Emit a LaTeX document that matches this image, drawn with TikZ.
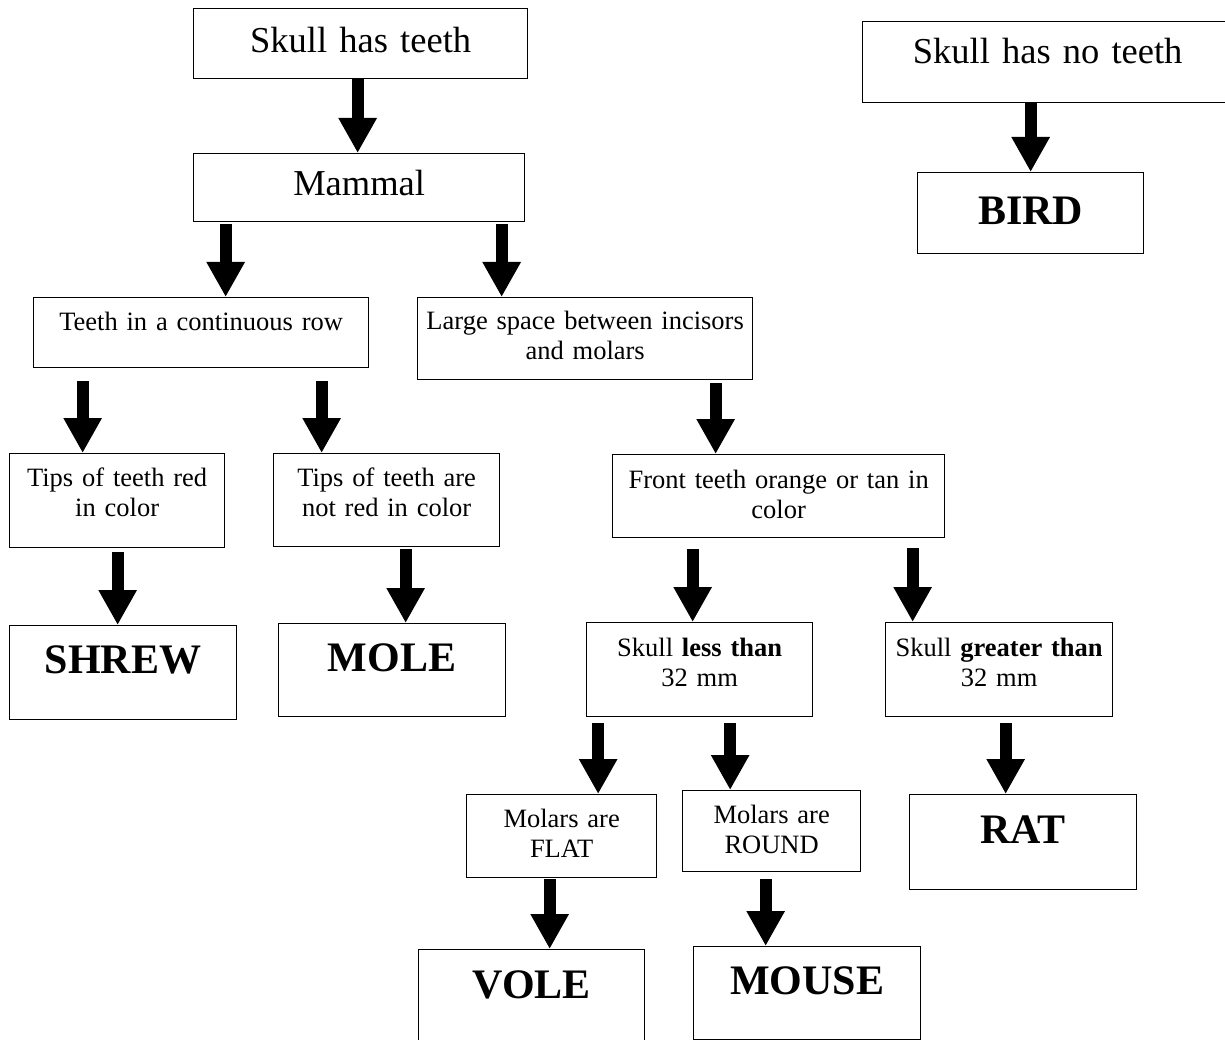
\documentclass[tikz,border=0pt]{standalone}
\usepackage{fontspec}
\setmainfont{Liberation Serif}
\usetikzlibrary{arrows.meta,calc}

\newcommand{\headtxt}{\fontsize{36.5}{42}\selectfont}
\newcommand{\cluetxt}{\fontsize{26.5}{30}\selectfont}
\newcommand{\nametxt}{\fontsize{42}{48}\selectfont\bfseries}

\begin{document}
\begin{tikzpicture}[x=1pt, y=-1pt,
  box/.style={draw, line width=1.3pt, inner sep=0pt, align=center,
              anchor=north west},
  head/.style={box, font=\headtxt},
  clue/.style={box, font=\cluetxt},
  animal/.style={box, font=\nametxt},
  blk/.style={line width=12pt, -{Triangle[length=35pt, width=36pt]}}
]
\useasboundingbox (0,0) rectangle (1225,1040);
\clip (0,0) rectangle (1225,1040);

% ---- Top of the key ----------------------------------------------------
\node[head, text width=334pt, text height=44pt, text depth=26pt]
  (teeth) at (193,8) {Skull has teeth};
\node[head, text width=331pt, text height=42pt, text depth=26pt]
  (mammal) at (193,153) {Mammal};
\node[head, text width=370pt, text height=42pt, text depth=39pt]
  (noTeeth) at (862,21) {Skull has no teeth};
\node[animal, text width=226pt, text height=52pt, text depth=29pt]
  (bird) at (917,172) {BIRD};

% ---- Teeth in a row ----------------------------------------------------
\node[clue, text width=335pt, text height=33pt, text depth=37pt]
  (teethRow) at (33,297) {Teeth in a continuous row};
\node[clue, text width=215pt, text height=33pt, text depth=61pt]
  (tipsRed) at (9,453) {Tips of teeth red\\in color};
\node[clue, text width=226pt, text height=33pt, text depth=60pt]
  (tipsNotRed) at (273,453) {Tips of teeth are\\not red in color};
\node[animal, text width=227pt, text height=48pt, text depth=46pt]
  (shrew) at (9,625) {SHREW};
\node[animal, text width=227pt, text height=48pt, text depth=45pt]
  (mole) at (278,623) {MOLE};

% ---- Large space -------------------------------------------------------
\node[clue, text width=335pt, text height=32pt, text depth=50pt]
  (largeSpace) at (417,297) {Large space between incisors\\and molars};
\node[clue, text width=332pt, text height=34pt, text depth=49pt]
  (frontTeeth) at (612,454) {Front teeth orange or tan in\\color};
\node[clue, text width=226pt, text height=34pt, text depth=60pt]
  (skullLess) at (586,622) {Skull \textbf{less than}\\32 mm};
\node[clue, text width=227pt, text height=34pt, text depth=60pt]
  (skullGreater) at (885,622) {Skull \textbf{greater than}\\32 mm};
\node[clue, text width=190pt, text height=33pt, text depth=50pt]
  (molarsFlat) at (466,794) {Molars are\\FLAT};
\node[clue, text width=178pt, text height=33pt, text depth=48pt]
  (molarsRound) at (682,790) {Molars are\\ROUND};
\node[animal, text width=226pt, text height=49pt, text depth=60pt]
  (vole) at (418,949) {VOLE};
\node[animal, text width=227pt, text height=48pt, text depth=45pt]
  (mouse) at (693,946) {MOUSE};
\node[animal, text width=227pt, text height=49pt, text depth=46pt]
  (rat) at (909,794) {RAT};

% ---- Arrows: from / to / x offset / gap below source -------------------
\foreach \from/\to/\dx/\gap in {
    teeth/mammal/-3/0, noTeeth/bird/-17/0,
    mammal/teethRow/-133.5/2, mammal/largeSpace/142.5/2,
    teethRow/tipsRed/-118.5/13, teethRow/tipsNotRed/120.5/13,
    tipsRed/shrew/0.5/4, tipsNotRed/mole/19/2,
    largeSpace/frontTeeth/130.5/3,
    frontTeeth/skullLess/-86/11, frontTeeth/skullGreater/134/10,
    skullLess/molarsFlat/-101.5/6, skullLess/molarsRound/30.5/6,
    skullGreater/rat/6.5/6,
    molarsFlat/vole/-12/1, molarsRound/mouse/-6/7} {
  \coordinate (s) at ($(\from.south)+(\dx,\gap)$);
  \draw[blk] (s) -- (s |- \to.north);
}
\end{tikzpicture}
\end{document}
